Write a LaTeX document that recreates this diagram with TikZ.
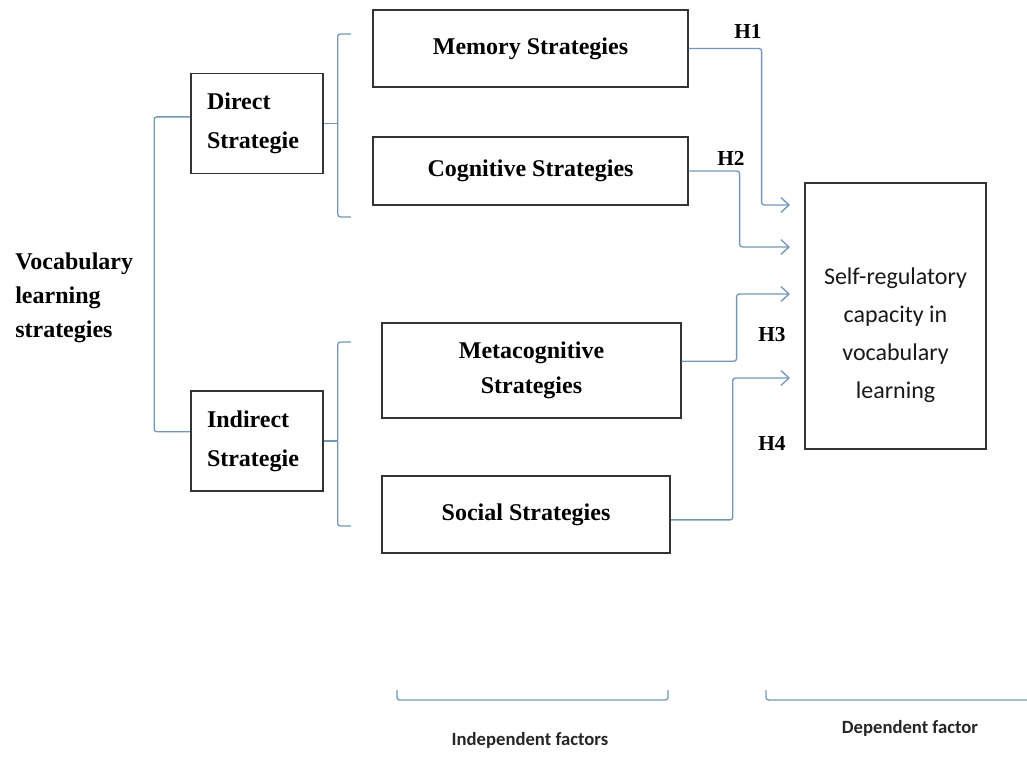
\documentclass[tikz,border=0pt]{standalone}
\usepackage{fontspec}
\setmainfont{Liberation Serif}
\newfontfamily\calibri{Carlito}
\usepackage{xcolor}
\usetikzlibrary{arrows.meta}
\definecolor{lineblue}{RGB}{115,150,185}

\begin{document}
\begin{tikzpicture}[
x=0.75pt,y=-0.75pt,
box/.style={rectangle, draw=black!80, line width=1.2pt, align=center, font=\bfseries\fontsize{18}{26}\selectfont},
lbox/.style={box, align=left, text width=75pt, inner xsep=12pt, minimum width=99pt, minimum height=75pt, font=\bfseries\fontsize{18}{29}\selectfont},
link/.style={line width=1pt, lineblue, rounded corners=2pt},
route/.style={link, -{Straight Barb[length=6pt,width=11pt]}},
hyp/.style={font=\bfseries\fontsize{16}{16}\selectfont},
foot/.style={font=\calibri\bfseries\fontsize{14}{14}\selectfont, text=black!85},
]
\useasboundingbox (0,0) rectangle (1027,760);

%left column
\node(voc)[anchor=west, align=left, inner sep=0pt, font=\bfseries\fontsize{18}{25.5}\selectfont] at (15,298) {Vocabulary\\learning\\strategies};
\node(direct)[lbox]   at (257,123.5) {Direct\\Strategie};
\node(indirect)[lbox] at (257,441)   {Indirect\\Strategie};

%strategy boxes
\node(mem)[box, minimum width=236pt, minimum height=57.75pt]  at (530.5,48.5) {Memory Strategies};
\node(cog)[box, minimum width=236pt, minimum height=51pt]     at (530.5,171)  {Cognitive Strategies};
\node(meta)[box, minimum width=224pt, minimum height=71.25pt] at (531.5,370.5) {Metacognitive\\Strategies};
\node(soc)[box, minimum width=216pt, minimum height=57.75pt]  at (526,514.5)  {Social Strategies};

%dependent box
\node(self)[box, minimum width=135.75pt, minimum height=199.5pt] at (895.5,316) {};
\node(selftxt)[align=center, font=\calibri\fontsize{18}{28.5}\selectfont, text=black!90] at (895.5,335) {Self-regulatory\\capacity in\\vocabulary\\learning};

%brackets
\draw[link] ([yshift=5pt]direct.west) -- ++(-36,0) |- ([yshift=7pt]indirect.west);
\draw[link] (direct.east) -- ++(14,0) coordinate (db);
\draw[link] (db) ++(13,-89.5) -- ++(-13,0) -- ++(0,183) -- ++(13,0);
\draw[link] (indirect.east) -- ++(14,0) coordinate (ib);
\draw[link] (ib) ++(13,-99) -- ++(-13,0) -- ++(0,184) -- ++(13,0);

%hypotheses
\coordinate (h1) at (790,205);
\coordinate (h2) at (790,247);
\coordinate (h3) at (790,294);
\coordinate (h4) at (790,378);
\draw[route] (mem.east) -- ++(73,0) |- (h1);
\draw[route] (cog.east) -- ++(51,0) |- (h2);
\draw[route] ([yshift=7pt]meta.east) -- ++(55,0) |- (h3);
\draw[route] ([yshift=-4pt]soc.east) -- ++(62,0) |- (h4);
\node(t1)[hyp] at (748,31)  {H1};
\node(t2)[hyp] at (731,158) {H2};
\node(t3)[hyp] at (772,335) {H3};
\node(t4)[hyp] at (772,443) {H4};

%factors
\coordinate (i1) at (397,690);
\coordinate (i2) at (668,690);
\draw[link] (i1) -- ++(0,10) -- ++(271,0) -- (i2);
\coordinate (d1) at (766,690);
\draw[link] (d1) -- ++(0,10) -- ++(261,0);
\node(ind)[foot] at (530,740) {Independent factors};
\node(dep)[foot] at (910,728) {Dependent factor};

\end{tikzpicture}
\end{document}
